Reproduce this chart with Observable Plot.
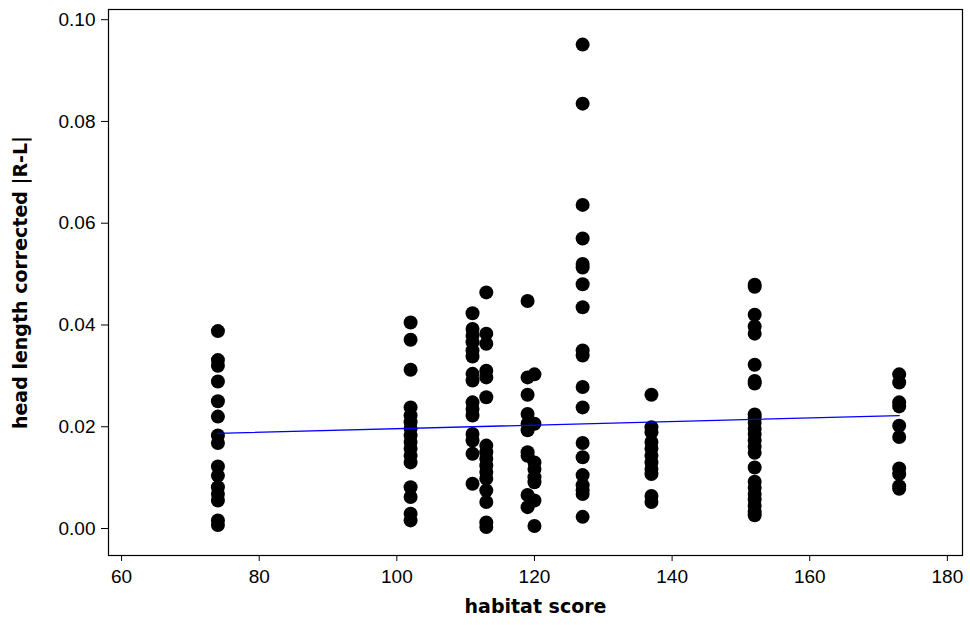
<!DOCTYPE html>
<html>
<head>
<meta charset="utf-8">
<script src="https://cdn.jsdelivr.net/npm/d3@7"></script>
<script src="https://cdn.jsdelivr.net/npm/@observablehq/plot@0.6"></script>
<style>
  html, body { margin: 0; padding: 0; background: #fff; }
  #chart svg { display: block; }
</style>
</head>
<body>
<div id="chart"></div>
<script>
// Habitat score of each sampling site
const habitatScores = [74, 102, 111, 113, 119, 120, 127, 137, 152, 173];

// Corrected |R-L| head-length asymmetry of the individuals at each site
const asym74  = [0.0388, 0.0331, 0.0320, 0.0289, 0.0250, 0.0220, 0.0183, 0.0168, 0.0122, 0.0104, 0.0081, 0.0068, 0.0055, 0.0016, 0.0007];
const asym102 = [0.0405, 0.0371, 0.0312, 0.0238, 0.0222, 0.0209, 0.0196, 0.0183, 0.0170, 0.0157, 0.0143, 0.0130, 0.0081, 0.0062, 0.0029, 0.0016];
const asym111 = [0.0423, 0.0392, 0.0379, 0.0366, 0.0350, 0.0338, 0.0304, 0.0291, 0.0248, 0.0235, 0.0222, 0.0186, 0.0173, 0.0147, 0.0088];
const asym113 = [0.0464, 0.0383, 0.0363, 0.0310, 0.0297, 0.0258, 0.0163, 0.0150, 0.0137, 0.0124, 0.0111, 0.0098, 0.0075, 0.0052, 0.0012, 0.0003];
const asym119 = [0.0447, 0.0297, 0.0263, 0.0225, 0.0206, 0.0193, 0.0150, 0.0143, 0.0066, 0.0042];
const asym120 = [0.0303, 0.0206, 0.0130, 0.0117, 0.0101, 0.0091, 0.0055, 0.0005];
const asym127 = [0.0951, 0.0835, 0.0636, 0.0570, 0.0520, 0.0513, 0.0480, 0.0435, 0.0350, 0.0340, 0.0278, 0.0238, 0.0168, 0.0140, 0.0105, 0.0085, 0.0075, 0.0068, 0.0023];
const asym137 = [0.0263, 0.0199, 0.0189, 0.0170, 0.0157, 0.0143, 0.0130, 0.0117, 0.0107, 0.0064, 0.0052];
const asym152 = [0.0479, 0.0475, 0.0420, 0.0397, 0.0383, 0.0322, 0.0290, 0.0285, 0.0224, 0.0218, 0.0208, 0.0196, 0.0186, 0.0173, 0.0161, 0.0149, 0.0120, 0.0092, 0.0080, 0.0068, 0.0057, 0.0045, 0.0033, 0.0026];
const asym173 = [0.0303, 0.0287, 0.0248, 0.0240, 0.0202, 0.0180, 0.0118, 0.0107, 0.0083, 0.0078];

const asymBySite = [asym74, asym102, asym111, asym113, asym119, asym120, asym127, asym137, asym152, asym173];

// Fitted linear trend, evaluated at the lowest and highest habitat scores
const fitScores = [74, 173];
const fitValues = [0.0187, 0.0222];

// Axis tick values and titles
const xTicks = [60, 80, 100, 120, 140, 160, 180];
const yTicks = [0, 0.02, 0.04, 0.06, 0.08, 0.10];
const xTitle = "habitat score";
const yTitle = "head length corrected |R-L|";

const rows = habitatScores.flatMap((score, i) =>
  asymBySite[i].map(v => ({score, asym: v}))
);
const fit = fitScores.map((score, i) => ({score, asym: fitValues[i]}));

const titleFont = "'DejaVu Sans', Verdana, sans-serif";

const chart = Plot.plot({
  width: 970,
  height: 625,
  marginLeft: 108,
  marginRight: 8,
  marginTop: 9,
  marginBottom: 70,
  style: {fontFamily: "'Liberation Sans', Arial, sans-serif", fontSize: "19px", color: "#000", background: "#fff"},
  x: {domain: [58.1, 182.2]},
  y: {domain: [-0.0053, 0.102]},
  marks: [
    Plot.frame({stroke: "#000", strokeWidth: 1.2}),
    Plot.axisX({ticks: xTicks, tickSize: 6, tickPadding: 8, tickFormat: d3.format("d"), label: null, fontSize: 19}),
    Plot.axisY({ticks: yTicks, tickSize: 7, tickPadding: 6, tickFormat: d3.format(".2f"), label: null, fontSize: 19}),
    Plot.text([xTitle], {frameAnchor: "bottom", dy: 57, text: d => d, textAnchor: "middle", fontFamily: titleFont, fontWeight: "bold", fontSize: 19, fill: "#000"}),
    Plot.text([yTitle], {frameAnchor: "left", dx: -88, rotate: -90, text: d => d, textAnchor: "middle", fontFamily: titleFont, fontWeight: "bold", fontSize: 19, fill: "#000"}),
    Plot.dot(rows, {x: "score", y: "asym", r: 7, fill: "#000", stroke: "none"}),
    Plot.line(fit, {x: "score", y: "asym", stroke: "#0000ff", strokeWidth: 1.3})
  ]
});

document.getElementById("chart").appendChild(chart);
</script>
</body>
</html>
